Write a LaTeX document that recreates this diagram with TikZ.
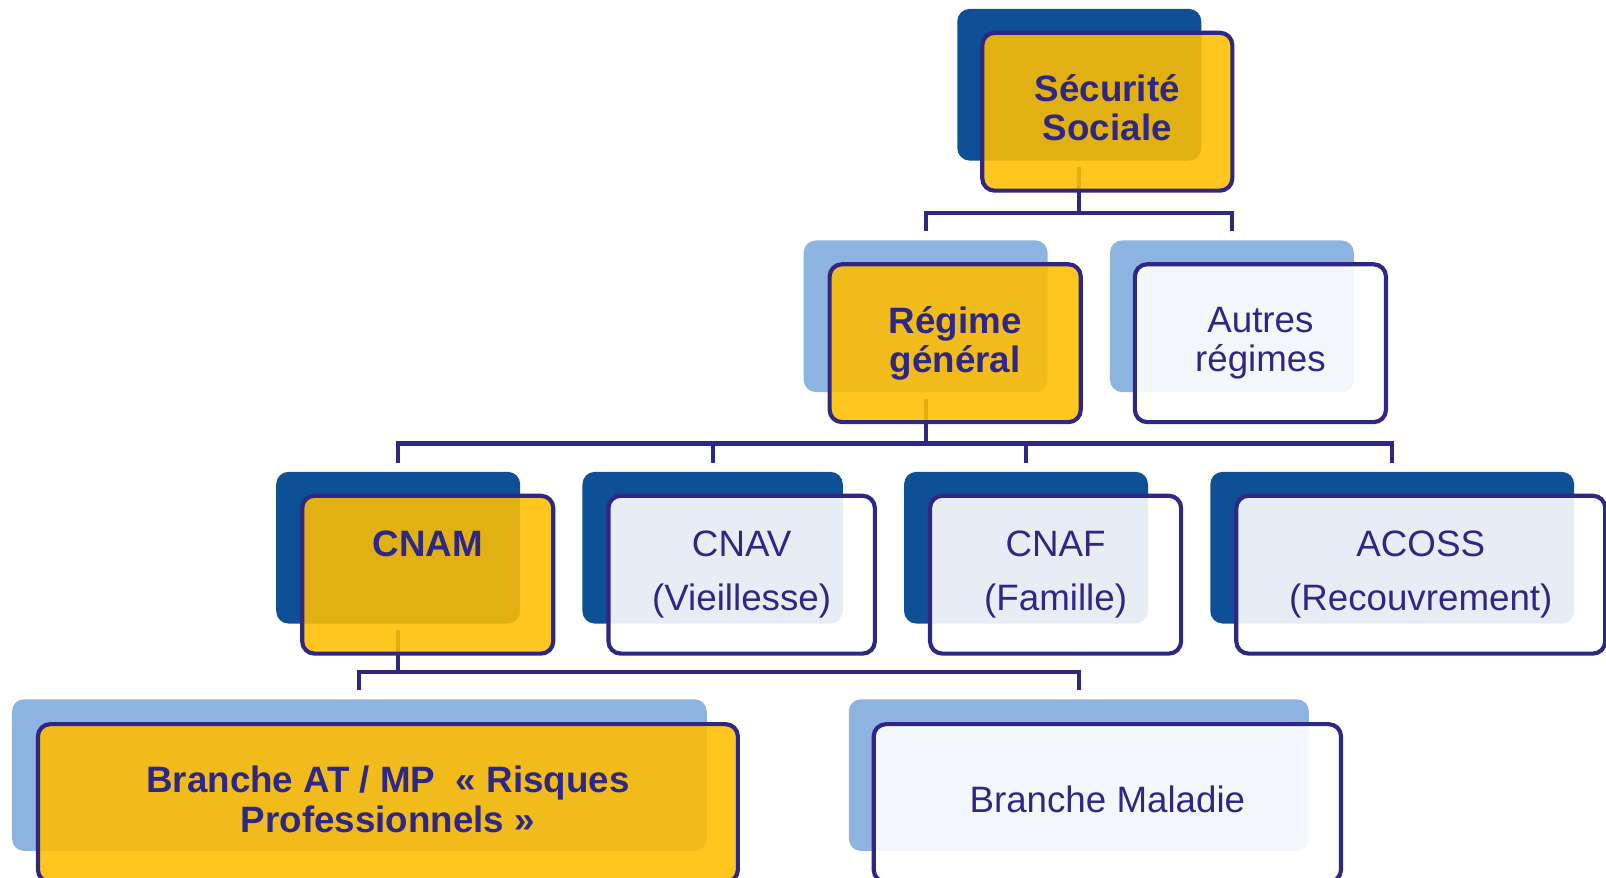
\documentclass[tikz,border=0pt]{standalone}
\usepackage{fontspec}
\setmainfont{Liberation Sans}
\usetikzlibrary{positioning}
\definecolor{darkblue}{RGB}{13,80,150}
\definecolor{lightblue}{RGB}{141,179,225}
\definecolor{gold}{RGB}{255,190,0}
\definecolor{ink}{RGB}{46,39,134}
\tikzset{
    box/.style={rectangle, rounded corners=3.4pt, anchor=north west, minimum height=1.48cm, inner sep=0pt},
    backdark/.style={box, fill=darkblue},
    backlight/.style={box, fill=lightblue},
    front/.style={rectangle, rounded corners=3.4pt, draw=ink, line width=1.15pt, minimum height=1.54cm, inner sep=0pt, align=center, text=ink, text depth=0.075cm, font=\fontsize{10.2pt}{10.9pt}\selectfont, fill opacity=0.88, text opacity=1},
    frontgold/.style={front, fill=gold, font=\fontsize{10.2pt}{10.9pt}\selectfont\bfseries},
    frontwhite/.style={front, fill=white, fill opacity=0.9},
    conn/.style={draw=ink, line width=1.15pt}
}

\begin{document}
\begin{tikzpicture}[x=0.01cm,y=-0.01cm]
    \useasboundingbox (0,0) rectangle (1568,857);

    % shadow boxes
    \node[backdark, minimum width=2.38cm] (ssb) at (934,8) {};
    \node[backlight, minimum width=2.38cm] (rgb) at (784,234) {};
    \node[backlight, minimum width=2.38cm] (arb) at (1083,234) {};
    \node[backdark, minimum width=2.38cm] (cnamb) at (269,460) {};
    \node[backdark, minimum width=2.54cm] (cnavb) at (568,460) {};
    \node[backdark, minimum width=2.38cm] (cnafb) at (882,460) {};
    \node[backdark, minimum width=3.55cm] (acossb) at (1181,460) {};
    \node[backlight, minimum width=6.78cm] (atmpb) at (11,682) {};
    \node[backlight, minimum width=4.49cm] (malb) at (828,682) {};

    % connectors
    \coordinate (bar1) at (0,208);
    \coordinate (bar2) at (0,433);
    \coordinate (bar3) at (0,656);
    \draw[conn] ([yshift=-0.06cm]ssb.south) -- (ssb.south |- bar1) -| ([yshift=0.08cm]rgb.north);
    \draw[conn] (ssb.south |- bar1) -| ([yshift=0.08cm]arb.north);
    \draw[conn] ([yshift=-0.06cm]rgb.south) -- (rgb.south |- bar2) -| ([yshift=0.08cm]cnamb.north);
    \draw[conn] (rgb.south |- bar2) -| ([yshift=0.08cm]cnavb.north);
    \draw[conn] (rgb.south |- bar2) -| ([yshift=0.08cm]cnafb.north);
    \draw[conn] (rgb.south |- bar2) -| ([yshift=0.08cm]acossb.north);
    \draw[conn] ([yshift=-0.06cm]cnamb.south) -- (cnamb.south |- bar3) -| ([yshift=0.08cm]atmpb.north);
    \draw[conn] (cnamb.south |- bar3) -| ([yshift=0.08cm]malb.north);

    % front boxes
    \node[frontgold, minimum width=2.44cm, below right=0.22cm and 0.23cm of ssb.north west] (ss) {Sécurité\\Sociale};
    \node[frontgold, minimum width=2.45cm, below right=0.22cm and 0.24cm of rgb.north west] (rg) {Régime\\général};
    \node[frontwhite, minimum width=2.45cm, below right=0.22cm and 0.23cm of arb.north west] (ar) {Autres\\régimes};
    \node[frontgold, minimum width=2.45cm, below right=0.22cm and 0.24cm of cnamb.north west] (cnam) {CNAM\\[4.2pt]\phantom{(Vieillesse)}};
    \node[frontwhite, minimum width=2.60cm, below right=0.22cm and 0.24cm of cnavb.north west] (cnav) {CNAV\\[4.2pt](Vieillesse)};
    \node[frontwhite, minimum width=2.45cm, below right=0.22cm and 0.24cm of cnafb.north west] (cnaf) {CNAF\\[4.2pt](Famille)};
    \node[frontwhite, minimum width=3.60cm, below right=0.22cm and 0.24cm of acossb.north west] (acoss) {ACOSS\\[4.2pt](Recouvrement)};
    \node[frontgold, minimum width=6.83cm, below right=0.23cm and 0.24cm of atmpb.north west] (atmp) {Branche AT / MP~~« Risques\\Professionnels »};
    \node[frontwhite, minimum width=4.56cm, below right=0.23cm and 0.23cm of malb.north west] (mal) {Branche Maladie};
\end{tikzpicture}
\end{document}
